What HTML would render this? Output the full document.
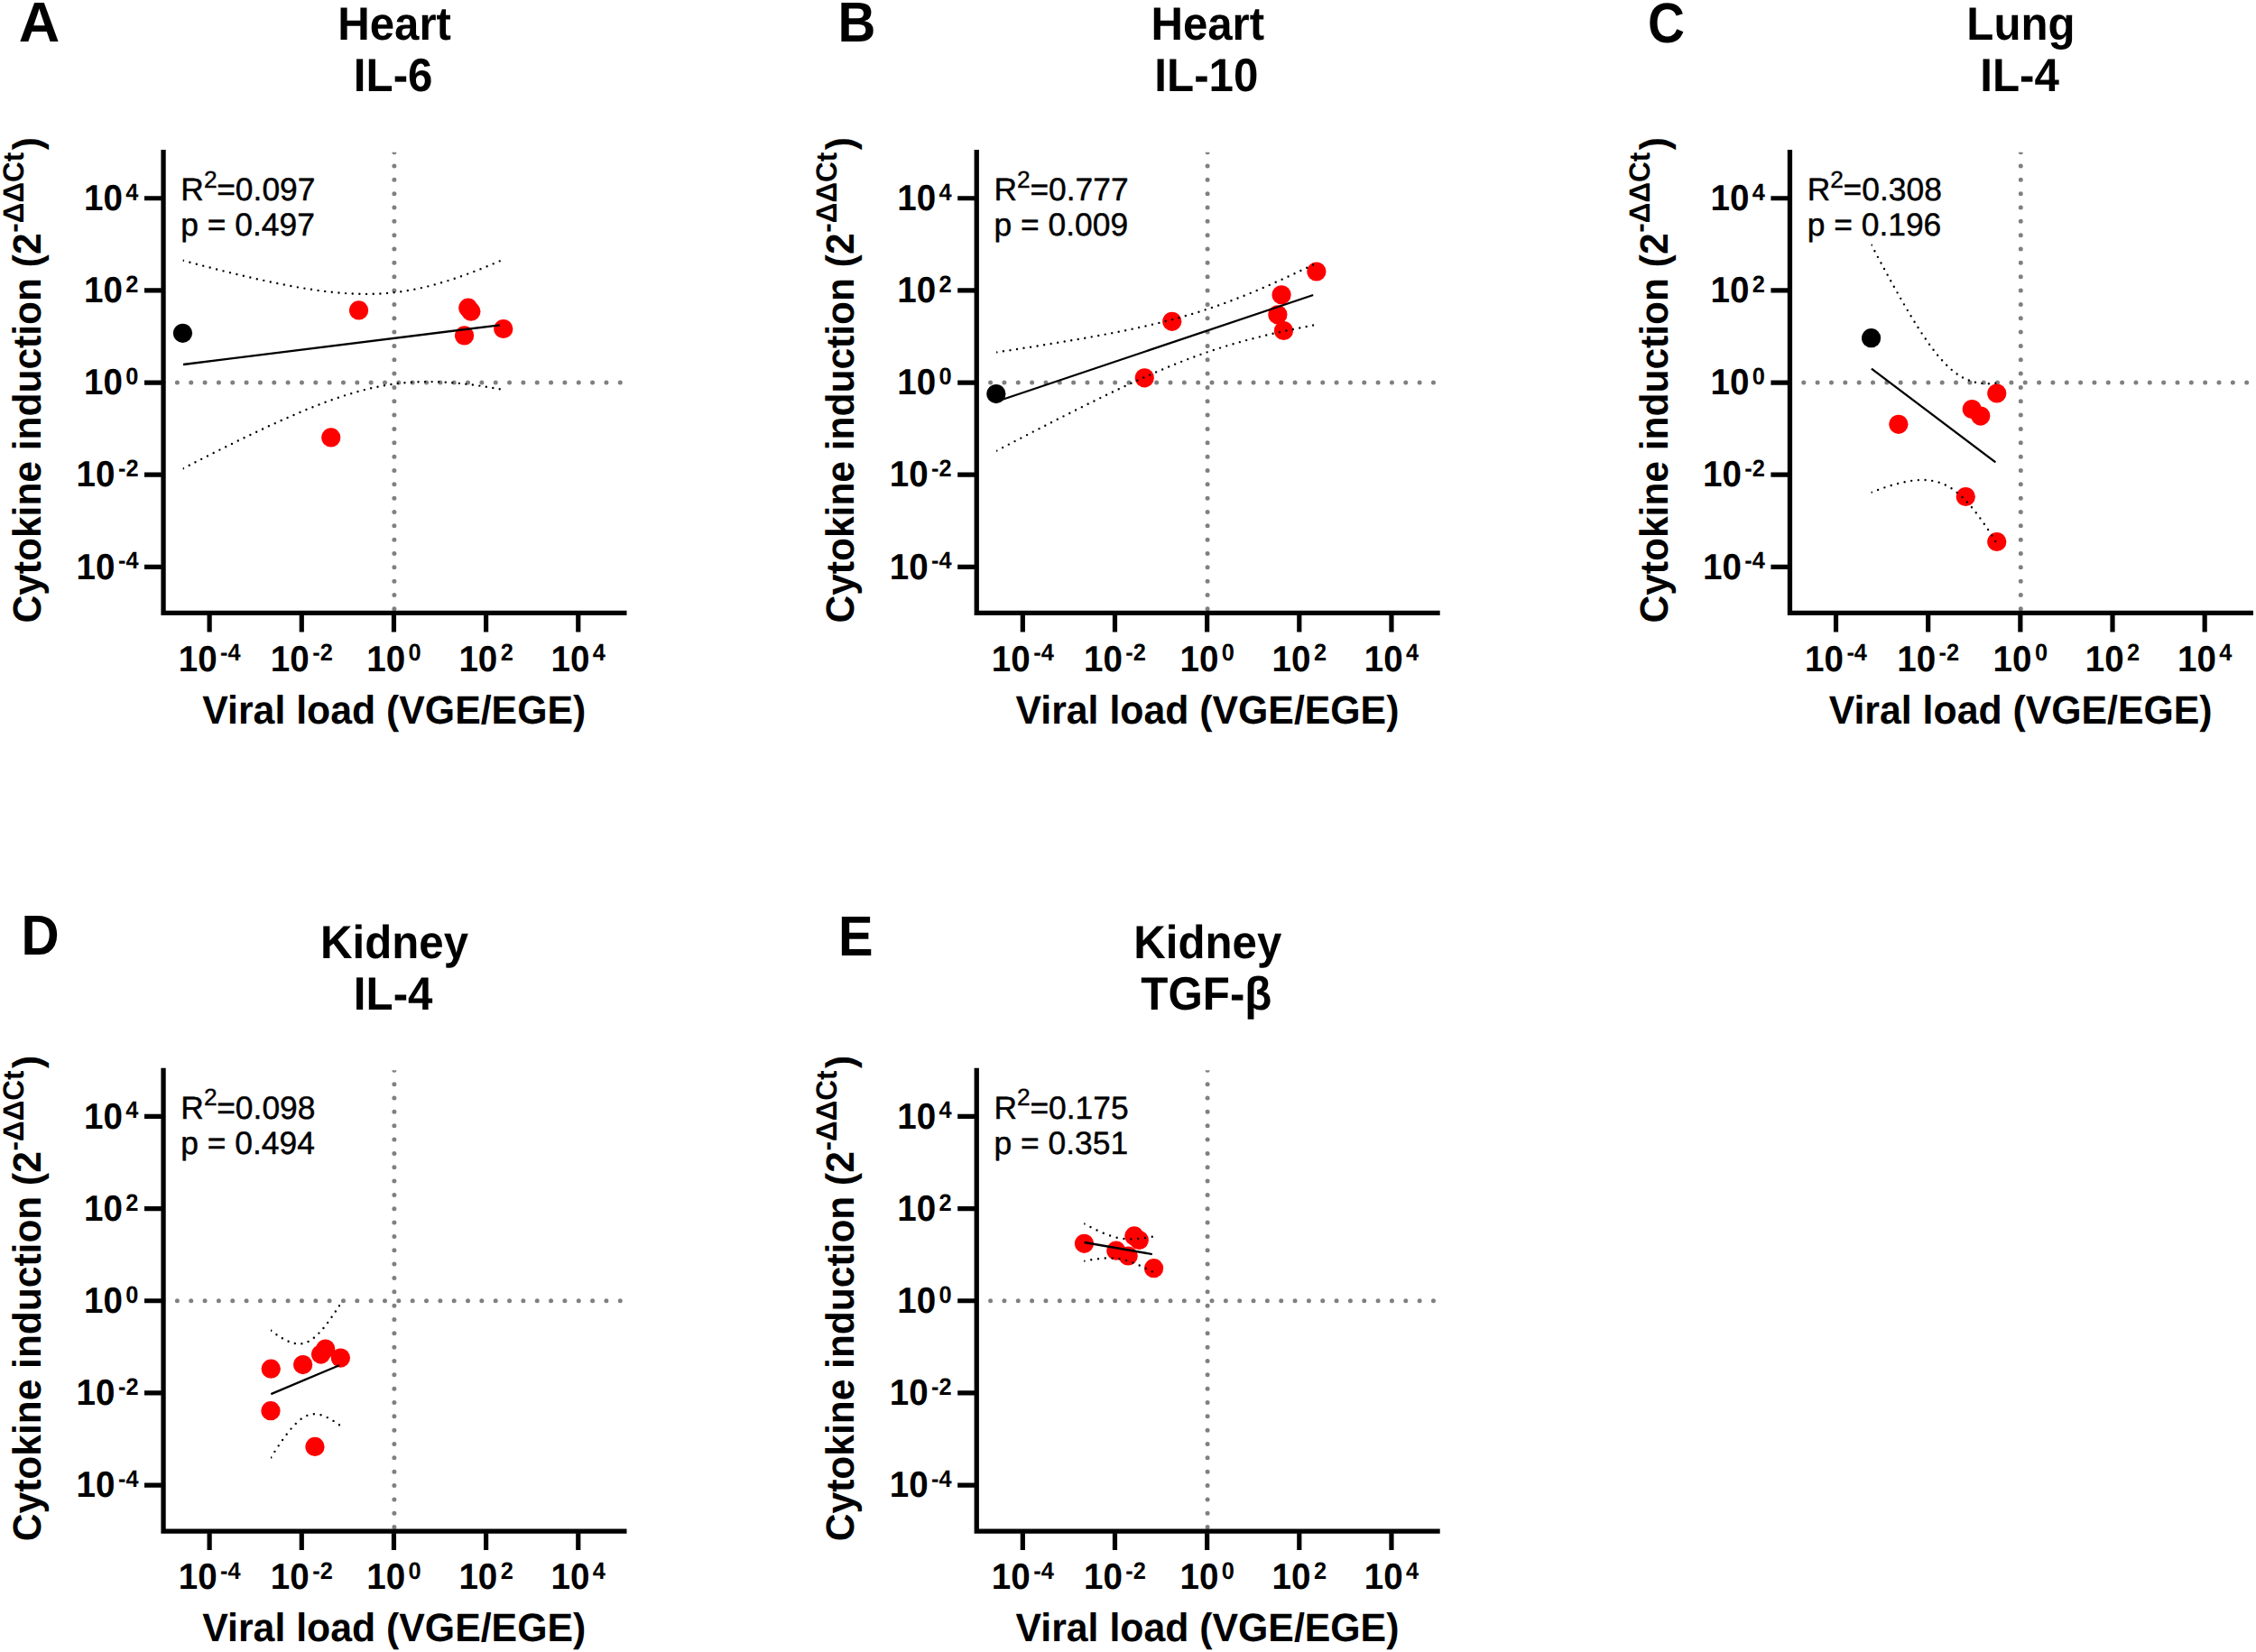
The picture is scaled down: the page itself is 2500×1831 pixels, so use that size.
<!DOCTYPE html>
<html lang="en"><head><meta charset="utf-8"><title>Cytokine induction vs viral load</title>
<style>html,body{margin:0;padding:0;background:#fff}
svg{display:block;font-family:"Liberation Sans",sans-serif;text-rendering:geometricPrecision}
.gd{fill:none;stroke:#808080;stroke-width:5;stroke-linecap:round;stroke-dasharray:0 15.34}
.ci{fill:none;stroke:#000;stroke-width:2.4;stroke-linecap:round}
.rl{fill:none;stroke:#000;stroke-width:2.3}
.st{stroke:#000;stroke-width:.45;stroke-linejoin:round}
.ax{fill:none;stroke:#000;stroke-width:5.3}
.tk{fill:none;stroke:#000;stroke-width:5.2}</style></head><body>
<svg width="2500" height="1831" viewBox="0 0 2500 1831">
<defs><clipPath id="cp"><rect x="0" y="168.65" width="2500" height="600"/></clipPath></defs>
<rect width="2500" height="1831" fill="#fff"/>
<g transform="translate(0.00,0.00)">
<path d="M181.05,424.05H691.85" class="gd"/>
<path d="M436.90,168.65V679.45" class="gd" clip-path="url(#cp)"/>
<circle cx="202.50" cy="369.30" r="10.6" fill="#000"/>
<circle cx="397.60" cy="343.90" r="10.6" fill="#f00"/>
<circle cx="366.80" cy="484.90" r="10.6" fill="#f00"/>
<circle cx="514.60" cy="371.90" r="10.6" fill="#f00"/>
<circle cx="518.80" cy="341.20" r="10.6" fill="#f00"/>
<circle cx="521.90" cy="345.20" r="10.6" fill="#f00"/>
<circle cx="557.80" cy="364.50" r="10.6" fill="#f00"/>
<clipPath id="cA"><rect x="202.70" y="100" width="352.40" height="620"/></clipPath>
<g clip-path="url(#cA)">
<path d="M203.00,288.80 L207.44,289.99 L211.88,291.17 L216.32,292.34 L220.76,293.50 L225.20,294.65 L229.64,295.80 L234.08,296.94 L238.52,298.07 L242.96,299.19 L247.41,300.30 L251.85,301.41 L256.29,302.50 L260.73,303.58 L265.17,304.64 L269.61,305.70 L274.05,306.74 L278.49,307.77 L282.93,308.78 L287.37,309.78 L291.81,310.76 L296.25,311.72 L300.69,312.67 L305.13,313.59 L309.57,314.50 L314.01,315.38 L318.45,316.24 L322.89,317.07 L327.33,317.88 L331.77,318.67 L336.22,319.42 L340.66,320.14 L345.10,320.83 L349.54,321.49 L353.98,322.11 L358.42,322.69 L362.86,323.23 L367.30,323.73 L371.74,324.18 L376.18,324.58 L380.62,324.94 L385.06,325.24 L389.50,325.49 L393.94,325.68 L398.38,325.81 L402.82,325.88 L407.26,325.88 L411.70,325.82 L416.14,325.69 L420.58,325.50 L425.03,325.23 L429.47,324.89 L433.91,324.47 L438.35,323.98 L442.79,323.42 L447.23,322.78 L451.67,322.07 L456.11,321.29 L460.55,320.43 L464.99,319.51 L469.43,318.51 L473.87,317.45 L478.31,316.32 L482.75,315.13 L487.19,313.88 L491.63,312.57 L496.07,311.20 L500.51,309.78 L504.95,308.30 L509.39,306.78 L513.84,305.21 L518.28,303.59 L522.72,301.94 L527.16,300.24 L531.60,298.50 L536.04,296.73 L540.48,294.93 L544.92,293.09 L549.36,291.22 L553.80,289.33" class="ci" stroke-dasharray="0 7.665"/>
<path d="M203.00,519.20 L207.44,516.91 L211.88,514.62 L216.32,512.35 L220.76,510.08 L225.20,507.81 L229.64,505.56 L234.08,503.31 L238.52,501.08 L242.96,498.85 L247.41,496.63 L251.85,494.42 L256.29,492.23 L260.73,490.04 L265.17,487.87 L269.61,485.71 L274.05,483.56 L278.49,481.43 L282.93,479.31 L287.37,477.20 L291.81,475.12 L296.25,473.05 L300.69,470.99 L305.13,468.96 L309.57,466.95 L314.01,464.96 L318.45,463.00 L322.89,461.05 L327.33,459.14 L331.77,457.25 L336.22,455.39 L340.66,453.56 L345.10,451.76 L349.54,450.00 L353.98,448.28 L358.42,446.59 L362.86,444.94 L367.30,443.34 L371.74,441.78 L376.18,440.27 L380.62,438.81 L385.06,437.40 L389.50,436.05 L393.94,434.75 L398.38,433.51 L402.82,432.34 L407.26,431.22 L411.70,430.18 L416.14,429.20 L420.58,428.29 L425.03,427.46 L429.47,426.69 L433.91,426.00 L438.35,425.38 L442.79,424.84 L447.23,424.37 L451.67,423.97 L456.11,423.65 L460.55,423.40 L464.99,423.22 L469.43,423.11 L473.87,423.06 L478.31,423.09 L482.75,423.17 L487.19,423.32 L491.63,423.52 L496.07,423.78 L500.51,424.10 L504.95,424.47 L509.39,424.89 L513.84,425.35 L518.28,425.86 L522.72,426.41 L527.16,427.00 L531.60,427.63 L536.04,428.29 L540.48,428.99 L544.92,429.72 L549.36,430.48 L553.80,431.27" class="ci" stroke-dasharray="0 7.562"/>
</g>
<path d="M203.00,404.00L553.80,360.30" class="rl"/>
<path d="M181.05,166.00V682.10M178.40,679.45H694.50" class="ax"/>
<path d="M160,628.37H178.90M232.13,681.60V700.4M160,526.21H178.90M334.29,681.60V700.4M160,424.05H178.90M436.45,681.60V700.4M160,321.89H178.90M538.61,681.60V700.4M160,219.73H178.90M640.77,681.60V700.4" class="tk"/>
<text transform="translate(130.92,630.37) scale(1,1.045)" font-size="25.4" font-weight="bold">-4</text>
<text transform="translate(127.52,641.57) scale(1,1.045)" font-size="38.6" font-weight="bold" text-anchor="end">10</text>
<text transform="translate(197.67,743.60) scale(1,1.045)" font-size="38.6" font-weight="bold">10</text>
<text transform="translate(244.01,732.00) scale(1,1.045)" font-size="25.4" font-weight="bold">-4</text>
<text transform="translate(130.92,528.21) scale(1,1.045)" font-size="25.4" font-weight="bold">-2</text>
<text transform="translate(127.52,539.41) scale(1,1.045)" font-size="38.6" font-weight="bold" text-anchor="end">10</text>
<text transform="translate(299.83,743.60) scale(1,1.045)" font-size="38.6" font-weight="bold">10</text>
<text transform="translate(346.17,732.00) scale(1,1.045)" font-size="25.4" font-weight="bold">-2</text>
<text transform="translate(139.37,426.05) scale(1,1.045)" font-size="25.4" font-weight="bold">0</text>
<text transform="translate(135.97,437.25) scale(1,1.045)" font-size="38.6" font-weight="bold" text-anchor="end">10</text>
<text transform="translate(406.22,743.60) scale(1,1.045)" font-size="38.6" font-weight="bold">10</text>
<text transform="translate(452.55,732.00) scale(1,1.045)" font-size="25.4" font-weight="bold">0</text>
<text transform="translate(139.37,323.89) scale(1,1.045)" font-size="25.4" font-weight="bold">2</text>
<text transform="translate(135.97,335.09) scale(1,1.045)" font-size="38.6" font-weight="bold" text-anchor="end">10</text>
<text transform="translate(508.38,743.60) scale(1,1.045)" font-size="38.6" font-weight="bold">10</text>
<text transform="translate(554.71,732.00) scale(1,1.045)" font-size="25.4" font-weight="bold">2</text>
<text transform="translate(139.37,221.73) scale(1,1.045)" font-size="25.4" font-weight="bold">4</text>
<text transform="translate(135.97,232.93) scale(1,1.045)" font-size="38.6" font-weight="bold" text-anchor="end">10</text>
<text transform="translate(610.54,743.60) scale(1,1.045)" font-size="38.6" font-weight="bold">10</text>
<text transform="translate(656.87,732.00) scale(1,1.045)" font-size="25.4" font-weight="bold">4</text>
<text transform="translate(436.75,801.70) scale(1,1.03)" font-size="42.8" font-weight="bold" text-anchor="middle">Viral load (VGE/EGE)</text>
<g transform="translate(45.2,690.5) rotate(-90)">
<text transform="translate(0.00,0.00) scale(1,1.03)" font-size="42.5" font-weight="bold">Cytokine induction (2</text>
<text transform="translate(432.80,-19.30) scale(1,1.03)" font-size="31.5" font-weight="bold">-ΔΔCt</text>
<text transform="translate(524.30,0.00) scale(1,1.03)" font-size="42.5" font-weight="bold">)</text>
</g>
<text transform="translate(200.30,222.30)" font-size="35.4" class="st">R</text>
<text transform="translate(225.90,207.50)" font-size="26.3" class="st">2</text>
<text transform="translate(240.20,222.30)" font-size="35.4" class="st">=0.097</text>
<text transform="translate(200.30,261.40)" font-size="35.4" class="st">p = 0.497</text>
<text transform="translate(437.05,43.90) scale(1,1.05)" font-size="49.2" font-weight="bold" text-anchor="middle">Heart</text>
<text transform="translate(435.65,100.80) scale(1,1.05)" font-size="49.3" font-weight="bold" text-anchor="middle">IL-6</text>
</g>
<text transform="translate(20.70,45.80) scale(1.05,1.045)" font-size="60" font-weight="bold">A</text>
<g transform="translate(901.20,0.00)">
<path d="M181.05,424.05H691.85" class="gd"/>
<path d="M436.90,168.65V679.45" class="gd" clip-path="url(#cp)"/>
<circle cx="202.70" cy="436.60" r="10.6" fill="#000"/>
<circle cx="397.60" cy="356.30" r="10.6" fill="#f00"/>
<circle cx="367.10" cy="418.80" r="10.6" fill="#f00"/>
<circle cx="557.70" cy="301.00" r="10.6" fill="#f00"/>
<circle cx="518.90" cy="326.80" r="10.6" fill="#f00"/>
<circle cx="514.70" cy="348.80" r="10.6" fill="#f00"/>
<circle cx="521.30" cy="366.50" r="10.6" fill="#f00"/>
<clipPath id="cB"><rect x="202.90" y="100" width="352.40" height="620"/></clipPath>
<g clip-path="url(#cB)">
<path d="M203.20,390.40 L207.64,389.74 L212.08,389.07 L216.52,388.39 L220.96,387.72 L225.40,387.04 L229.84,386.36 L234.28,385.67 L238.72,384.98 L243.16,384.28 L247.61,383.58 L252.05,382.88 L256.49,382.17 L260.93,381.45 L265.37,380.73 L269.81,380.00 L274.25,379.27 L278.69,378.53 L283.13,377.79 L287.57,377.03 L292.01,376.27 L296.45,375.50 L300.89,374.72 L305.33,373.93 L309.77,373.14 L314.21,372.33 L318.65,371.51 L323.09,370.68 L327.53,369.84 L331.97,368.98 L336.42,368.11 L340.86,367.23 L345.30,366.33 L349.74,365.41 L354.18,364.48 L358.62,363.53 L363.06,362.56 L367.50,361.57 L371.94,360.56 L376.38,359.52 L380.82,358.46 L385.26,357.38 L389.70,356.27 L394.14,355.13 L398.58,353.96 L403.02,352.77 L407.46,351.54 L411.90,350.28 L416.34,348.99 L420.78,347.67 L425.23,346.31 L429.67,344.91 L434.11,343.49 L438.55,342.02 L442.99,340.52 L447.43,338.99 L451.87,337.42 L456.31,335.81 L460.75,334.17 L465.19,332.49 L469.63,330.79 L474.07,329.05 L478.51,327.28 L482.95,325.47 L487.39,323.64 L491.83,321.78 L496.27,319.90 L500.71,317.99 L505.15,316.05 L509.59,314.09 L514.04,312.11 L518.48,310.10 L522.92,308.08 L527.36,306.04 L531.80,303.98 L536.24,301.90 L540.68,299.81 L545.12,297.70 L549.56,295.57 L554.00,293.44" class="ci" stroke-dasharray="0 7.622"/>
<path d="M203.20,499.60 L207.64,497.28 L212.08,494.96 L216.52,492.64 L220.96,490.33 L225.40,488.02 L229.84,485.72 L234.28,483.42 L238.72,481.12 L243.16,478.83 L247.61,476.54 L252.05,474.26 L256.49,471.98 L260.93,469.71 L265.37,467.45 L269.81,465.19 L274.25,462.93 L278.69,460.68 L283.13,458.44 L287.57,456.21 L292.01,453.98 L296.45,451.77 L300.89,449.56 L305.33,447.36 L309.77,445.17 L314.21,442.99 L318.65,440.82 L323.09,438.66 L327.53,436.52 L331.97,434.38 L336.42,432.27 L340.86,430.16 L345.30,428.07 L349.74,426.00 L354.18,423.95 L358.62,421.91 L363.06,419.90 L367.50,417.90 L371.94,415.92 L376.38,413.97 L380.82,412.04 L385.26,410.14 L389.70,408.26 L394.14,406.41 L398.58,404.59 L403.02,402.80 L407.46,401.04 L411.90,399.31 L416.34,397.62 L420.78,395.95 L425.23,394.32 L429.67,392.73 L434.11,391.17 L438.55,389.65 L442.99,388.16 L447.43,386.71 L451.87,385.29 L456.31,383.91 L460.75,382.56 L465.19,381.25 L469.63,379.97 L474.07,378.73 L478.51,377.51 L482.95,376.32 L487.39,375.17 L491.83,374.04 L496.27,372.94 L500.71,371.86 L505.15,370.81 L509.59,369.78 L514.04,368.78 L518.48,367.80 L522.92,366.83 L527.36,365.89 L531.80,364.96 L536.24,364.05 L540.68,363.16 L545.12,362.28 L549.56,361.41 L554.00,360.56" class="ci" stroke-dasharray="0 7.582"/>
</g>
<path d="M203.20,445.00L554.00,327.00" class="rl"/>
<path d="M181.05,166.00V682.10M178.40,679.45H694.50" class="ax"/>
<path d="M160,628.37H178.90M232.13,681.60V700.4M160,526.21H178.90M334.29,681.60V700.4M160,424.05H178.90M436.45,681.60V700.4M160,321.89H178.90M538.61,681.60V700.4M160,219.73H178.90M640.77,681.60V700.4" class="tk"/>
<text transform="translate(130.92,630.37) scale(1,1.045)" font-size="25.4" font-weight="bold">-4</text>
<text transform="translate(127.52,641.57) scale(1,1.045)" font-size="38.6" font-weight="bold" text-anchor="end">10</text>
<text transform="translate(197.67,743.60) scale(1,1.045)" font-size="38.6" font-weight="bold">10</text>
<text transform="translate(244.01,732.00) scale(1,1.045)" font-size="25.4" font-weight="bold">-4</text>
<text transform="translate(130.92,528.21) scale(1,1.045)" font-size="25.4" font-weight="bold">-2</text>
<text transform="translate(127.52,539.41) scale(1,1.045)" font-size="38.6" font-weight="bold" text-anchor="end">10</text>
<text transform="translate(299.83,743.60) scale(1,1.045)" font-size="38.6" font-weight="bold">10</text>
<text transform="translate(346.17,732.00) scale(1,1.045)" font-size="25.4" font-weight="bold">-2</text>
<text transform="translate(139.37,426.05) scale(1,1.045)" font-size="25.4" font-weight="bold">0</text>
<text transform="translate(135.97,437.25) scale(1,1.045)" font-size="38.6" font-weight="bold" text-anchor="end">10</text>
<text transform="translate(406.22,743.60) scale(1,1.045)" font-size="38.6" font-weight="bold">10</text>
<text transform="translate(452.55,732.00) scale(1,1.045)" font-size="25.4" font-weight="bold">0</text>
<text transform="translate(139.37,323.89) scale(1,1.045)" font-size="25.4" font-weight="bold">2</text>
<text transform="translate(135.97,335.09) scale(1,1.045)" font-size="38.6" font-weight="bold" text-anchor="end">10</text>
<text transform="translate(508.38,743.60) scale(1,1.045)" font-size="38.6" font-weight="bold">10</text>
<text transform="translate(554.71,732.00) scale(1,1.045)" font-size="25.4" font-weight="bold">2</text>
<text transform="translate(139.37,221.73) scale(1,1.045)" font-size="25.4" font-weight="bold">4</text>
<text transform="translate(135.97,232.93) scale(1,1.045)" font-size="38.6" font-weight="bold" text-anchor="end">10</text>
<text transform="translate(610.54,743.60) scale(1,1.045)" font-size="38.6" font-weight="bold">10</text>
<text transform="translate(656.87,732.00) scale(1,1.045)" font-size="25.4" font-weight="bold">4</text>
<text transform="translate(436.75,801.70) scale(1,1.03)" font-size="42.8" font-weight="bold" text-anchor="middle">Viral load (VGE/EGE)</text>
<g transform="translate(45.2,690.5) rotate(-90)">
<text transform="translate(0.00,0.00) scale(1,1.03)" font-size="42.5" font-weight="bold">Cytokine induction (2</text>
<text transform="translate(432.80,-19.30) scale(1,1.03)" font-size="31.5" font-weight="bold">-ΔΔCt</text>
<text transform="translate(524.30,0.00) scale(1,1.03)" font-size="42.5" font-weight="bold">)</text>
</g>
<text transform="translate(200.30,222.30)" font-size="35.4" class="st">R</text>
<text transform="translate(225.90,207.50)" font-size="26.3" class="st">2</text>
<text transform="translate(240.20,222.30)" font-size="35.4" class="st">=0.777</text>
<text transform="translate(200.30,261.40)" font-size="35.4" class="st">p = 0.009</text>
<text transform="translate(437.05,43.90) scale(1,1.05)" font-size="49.2" font-weight="bold" text-anchor="middle">Heart</text>
<text transform="translate(435.65,100.80) scale(1,1.05)" font-size="49.3" font-weight="bold" text-anchor="middle">IL-10</text>
</g>
<text transform="translate(928.50,46.30) scale(0.967,1.045)" font-size="60" font-weight="bold">B</text>
<g transform="translate(1802.40,0.00)">
<path d="M181.05,424.05H691.85" class="gd"/>
<path d="M436.90,168.65V679.45" class="gd" clip-path="url(#cp)"/>
<circle cx="271.20" cy="374.70" r="10.6" fill="#000"/>
<circle cx="301.50" cy="470.30" r="10.6" fill="#f00"/>
<circle cx="382.90" cy="453.60" r="10.6" fill="#f00"/>
<circle cx="392.40" cy="461.10" r="10.6" fill="#f00"/>
<circle cx="410.40" cy="436.00" r="10.6" fill="#f00"/>
<circle cx="375.90" cy="550.50" r="10.6" fill="#f00"/>
<circle cx="410.40" cy="600.50" r="10.6" fill="#f00"/>
<clipPath id="cC"><rect x="271.20" y="100" width="139.10" height="620"/></clipPath>
<g clip-path="url(#cC)">
<path d="M271.50,271.61 L273.24,274.90 L274.98,278.18 L276.72,281.45 L278.46,284.72 L280.20,287.97 L281.94,291.21 L283.68,294.45 L285.42,297.67 L287.16,300.87 L288.91,304.07 L290.65,307.25 L292.39,310.42 L294.13,313.57 L295.87,316.71 L297.61,319.83 L299.35,322.93 L301.09,326.02 L302.83,329.08 L304.57,332.13 L306.31,335.15 L308.05,338.16 L309.79,341.14 L311.53,344.09 L313.27,347.02 L315.01,349.92 L316.75,352.80 L318.49,355.64 L320.23,358.45 L321.97,361.23 L323.72,363.97 L325.46,366.68 L327.20,369.35 L328.94,371.97 L330.68,374.56 L332.42,377.10 L334.16,379.59 L335.90,382.03 L337.64,384.42 L339.38,386.76 L341.12,389.04 L342.86,391.26 L344.60,393.42 L346.34,395.52 L348.08,397.55 L349.82,399.51 L351.56,401.41 L353.30,403.24 L355.04,404.99 L356.78,406.67 L358.53,408.27 L360.27,409.80 L362.01,411.25 L363.75,412.62 L365.49,413.92 L367.23,415.14 L368.97,416.28 L370.71,417.34 L372.45,418.33 L374.19,419.24 L375.93,420.08 L377.67,420.85 L379.41,421.55 L381.15,422.18 L382.89,422.74 L384.63,423.24 L386.37,423.68 L388.11,424.06 L389.85,424.38 L391.59,424.64 L393.34,424.85 L395.08,425.02 L396.82,425.13 L398.56,425.20 L400.30,425.22 L402.04,425.20 L403.78,425.14 L405.52,425.05 L407.26,424.91 L409.00,424.75" class="ci" stroke-dasharray="0 7.501"/>
<path d="M271.50,545.59 L273.24,544.93 L274.98,544.28 L276.72,543.63 L278.46,542.99 L280.20,542.37 L281.94,541.75 L283.68,541.15 L285.42,540.56 L287.16,539.98 L288.91,539.41 L290.65,538.86 L292.39,538.32 L294.13,537.79 L295.87,537.28 L297.61,536.79 L299.35,536.32 L301.09,535.86 L302.83,535.42 L304.57,535.00 L306.31,534.60 L308.05,534.23 L309.79,533.88 L311.53,533.55 L313.27,533.25 L315.01,532.97 L316.75,532.73 L318.49,532.51 L320.23,532.33 L321.97,532.18 L323.72,532.06 L325.46,531.98 L327.20,531.94 L328.94,531.95 L330.68,531.99 L332.42,532.08 L334.16,532.22 L335.90,532.40 L337.64,532.64 L339.38,532.93 L341.12,533.28 L342.86,533.68 L344.60,534.15 L346.34,534.68 L348.08,535.28 L349.82,535.94 L351.56,536.67 L353.30,537.47 L355.04,538.35 L356.78,539.30 L358.53,540.32 L360.27,541.42 L362.01,542.60 L363.75,543.85 L365.49,545.19 L367.23,546.60 L368.97,548.08 L370.71,549.65 L372.45,551.29 L374.19,553.00 L375.93,554.79 L377.67,556.65 L379.41,558.58 L381.15,560.58 L382.89,562.64 L384.63,564.77 L386.37,566.96 L388.11,569.21 L389.85,571.52 L391.59,573.88 L393.34,576.30 L395.08,578.76 L396.82,581.28 L398.56,583.84 L400.30,586.44 L402.04,589.09 L403.78,591.77 L405.52,594.50 L407.26,597.26 L409.00,600.05" class="ci" stroke-dasharray="0 7.697"/>
</g>
<path d="M271.50,408.60L409.00,512.40" class="rl"/>
<path d="M181.05,166.00V682.10M178.40,679.45H694.50" class="ax"/>
<path d="M160,628.37H178.90M232.13,681.60V700.4M160,526.21H178.90M334.29,681.60V700.4M160,424.05H178.90M436.45,681.60V700.4M160,321.89H178.90M538.61,681.60V700.4M160,219.73H178.90M640.77,681.60V700.4" class="tk"/>
<text transform="translate(130.92,630.37) scale(1,1.045)" font-size="25.4" font-weight="bold">-4</text>
<text transform="translate(127.52,641.57) scale(1,1.045)" font-size="38.6" font-weight="bold" text-anchor="end">10</text>
<text transform="translate(197.67,743.60) scale(1,1.045)" font-size="38.6" font-weight="bold">10</text>
<text transform="translate(244.01,732.00) scale(1,1.045)" font-size="25.4" font-weight="bold">-4</text>
<text transform="translate(130.92,528.21) scale(1,1.045)" font-size="25.4" font-weight="bold">-2</text>
<text transform="translate(127.52,539.41) scale(1,1.045)" font-size="38.6" font-weight="bold" text-anchor="end">10</text>
<text transform="translate(299.83,743.60) scale(1,1.045)" font-size="38.6" font-weight="bold">10</text>
<text transform="translate(346.17,732.00) scale(1,1.045)" font-size="25.4" font-weight="bold">-2</text>
<text transform="translate(139.37,426.05) scale(1,1.045)" font-size="25.4" font-weight="bold">0</text>
<text transform="translate(135.97,437.25) scale(1,1.045)" font-size="38.6" font-weight="bold" text-anchor="end">10</text>
<text transform="translate(406.22,743.60) scale(1,1.045)" font-size="38.6" font-weight="bold">10</text>
<text transform="translate(452.55,732.00) scale(1,1.045)" font-size="25.4" font-weight="bold">0</text>
<text transform="translate(139.37,323.89) scale(1,1.045)" font-size="25.4" font-weight="bold">2</text>
<text transform="translate(135.97,335.09) scale(1,1.045)" font-size="38.6" font-weight="bold" text-anchor="end">10</text>
<text transform="translate(508.38,743.60) scale(1,1.045)" font-size="38.6" font-weight="bold">10</text>
<text transform="translate(554.71,732.00) scale(1,1.045)" font-size="25.4" font-weight="bold">2</text>
<text transform="translate(139.37,221.73) scale(1,1.045)" font-size="25.4" font-weight="bold">4</text>
<text transform="translate(135.97,232.93) scale(1,1.045)" font-size="38.6" font-weight="bold" text-anchor="end">10</text>
<text transform="translate(610.54,743.60) scale(1,1.045)" font-size="38.6" font-weight="bold">10</text>
<text transform="translate(656.87,732.00) scale(1,1.045)" font-size="25.4" font-weight="bold">4</text>
<text transform="translate(436.75,801.70) scale(1,1.03)" font-size="42.8" font-weight="bold" text-anchor="middle">Viral load (VGE/EGE)</text>
<g transform="translate(45.2,690.5) rotate(-90)">
<text transform="translate(0.00,0.00) scale(1,1.03)" font-size="42.5" font-weight="bold">Cytokine induction (2</text>
<text transform="translate(432.80,-19.30) scale(1,1.03)" font-size="31.5" font-weight="bold">-ΔΔCt</text>
<text transform="translate(524.30,0.00) scale(1,1.03)" font-size="42.5" font-weight="bold">)</text>
</g>
<text transform="translate(200.30,222.30)" font-size="35.4" class="st">R</text>
<text transform="translate(225.90,207.50)" font-size="26.3" class="st">2</text>
<text transform="translate(240.20,222.30)" font-size="35.4" class="st">=0.308</text>
<text transform="translate(200.30,261.40)" font-size="35.4" class="st">p = 0.196</text>
<text transform="translate(437.05,43.90) scale(1,1.05)" font-size="49.2" font-weight="bold" text-anchor="middle">Lung</text>
<text transform="translate(435.65,100.80) scale(1,1.05)" font-size="49.3" font-weight="bold" text-anchor="middle">IL-4</text>
</g>
<text transform="translate(1826.10,46.80) scale(0.944,1.045)" font-size="60" font-weight="bold">C</text>
<g transform="translate(0.00,1017.70)">
<path d="M181.05,424.05H691.85" class="gd"/>
<path d="M436.90,168.65V679.45" class="gd" clip-path="url(#cp)"/>
<circle cx="300.30" cy="499.50" r="10.6" fill="#f00"/>
<circle cx="335.70" cy="494.90" r="10.6" fill="#f00"/>
<circle cx="355.60" cy="483.40" r="10.6" fill="#f00"/>
<circle cx="360.70" cy="477.40" r="10.6" fill="#f00"/>
<circle cx="377.40" cy="487.40" r="10.6" fill="#f00"/>
<circle cx="300.00" cy="546.00" r="10.6" fill="#f00"/>
<circle cx="349.00" cy="585.70" r="10.6" fill="#f00"/>
<clipPath id="cD"><rect x="300.00" y="100" width="77.30" height="620"/></clipPath>
<g clip-path="url(#cD)">
<path d="M300.30,457.08 L301.26,457.80 L302.22,458.52 L303.17,459.22 L304.13,459.91 L305.09,460.59 L306.05,461.25 L307.01,461.91 L307.97,462.55 L308.92,463.18 L309.88,463.80 L310.84,464.40 L311.80,464.98 L312.76,465.55 L313.72,466.10 L314.67,466.63 L315.63,467.14 L316.59,467.63 L317.55,468.10 L318.51,468.55 L319.46,468.97 L320.42,469.37 L321.38,469.75 L322.34,470.09 L323.30,470.41 L324.26,470.70 L325.21,470.95 L326.17,471.18 L327.13,471.36 L328.09,471.52 L329.05,471.64 L330.01,471.71 L330.96,471.75 L331.92,471.75 L332.88,471.71 L333.84,471.62 L334.80,471.49 L335.75,471.32 L336.71,471.10 L337.67,470.83 L338.63,470.52 L339.59,470.16 L340.55,469.75 L341.50,469.30 L342.46,468.80 L343.42,468.25 L344.38,467.65 L345.34,467.02 L346.29,466.33 L347.25,465.60 L348.21,464.83 L349.17,464.02 L350.13,463.17 L351.09,462.28 L352.04,461.35 L353.00,460.38 L353.96,459.38 L354.92,458.35 L355.88,457.28 L356.84,456.18 L357.79,455.05 L358.75,453.89 L359.71,452.71 L360.67,451.50 L361.63,450.26 L362.58,449.00 L363.54,447.72 L364.50,446.42 L365.46,445.10 L366.42,443.76 L367.38,442.40 L368.33,441.02 L369.29,439.63 L370.25,438.22 L371.21,436.79 L372.17,435.35 L373.13,433.90 L374.08,432.44 L375.04,430.96 L376.00,429.47" class="ci" stroke-dasharray="0 7.587"/>
<path d="M300.30,597.72 L301.26,596.19 L302.22,594.67 L303.17,593.16 L304.13,591.66 L305.09,590.18 L306.05,588.70 L307.01,587.24 L307.97,585.79 L308.92,584.35 L309.88,582.93 L310.84,581.52 L311.80,580.13 L312.76,578.75 L313.72,577.40 L314.67,576.06 L315.63,574.74 L316.59,573.44 L317.55,572.16 L318.51,570.91 L319.46,569.67 L320.42,568.47 L321.38,567.29 L322.34,566.13 L323.30,565.01 L324.26,563.91 L325.21,562.85 L326.17,561.82 L327.13,560.82 L328.09,559.86 L329.05,558.94 L330.01,558.05 L330.96,557.20 L331.92,556.40 L332.88,555.63 L333.84,554.91 L334.80,554.23 L335.75,553.60 L336.71,553.01 L337.67,552.47 L338.63,551.98 L339.59,551.53 L340.55,551.13 L341.50,550.78 L342.46,550.47 L343.42,550.21 L344.38,550.00 L345.34,549.83 L346.29,549.70 L347.25,549.62 L348.21,549.59 L349.17,549.59 L350.13,549.64 L351.09,549.72 L352.04,549.84 L353.00,550.00 L353.96,550.19 L354.92,550.42 L355.88,550.68 L356.84,550.97 L357.79,551.29 L358.75,551.64 L359.71,552.02 L360.67,552.42 L361.63,552.85 L362.58,553.30 L363.54,553.78 L364.50,554.27 L365.46,554.78 L366.42,555.32 L367.38,555.87 L368.33,556.44 L369.29,557.03 L370.25,557.63 L371.21,558.25 L372.17,558.88 L373.13,559.52 L374.08,560.18 L375.04,560.85 L376.00,561.53" class="ci" stroke-dasharray="0 7.766"/>
</g>
<path d="M300.30,527.40L376.00,495.50" class="rl"/>
<path d="M181.05,166.00V682.10M178.40,679.45H694.50" class="ax"/>
<path d="M160,628.37H178.90M232.13,681.60V700.4M160,526.21H178.90M334.29,681.60V700.4M160,424.05H178.90M436.45,681.60V700.4M160,321.89H178.90M538.61,681.60V700.4M160,219.73H178.90M640.77,681.60V700.4" class="tk"/>
<text transform="translate(130.92,630.37) scale(1,1.045)" font-size="25.4" font-weight="bold">-4</text>
<text transform="translate(127.52,641.57) scale(1,1.045)" font-size="38.6" font-weight="bold" text-anchor="end">10</text>
<text transform="translate(197.67,743.60) scale(1,1.045)" font-size="38.6" font-weight="bold">10</text>
<text transform="translate(244.01,732.00) scale(1,1.045)" font-size="25.4" font-weight="bold">-4</text>
<text transform="translate(130.92,528.21) scale(1,1.045)" font-size="25.4" font-weight="bold">-2</text>
<text transform="translate(127.52,539.41) scale(1,1.045)" font-size="38.6" font-weight="bold" text-anchor="end">10</text>
<text transform="translate(299.83,743.60) scale(1,1.045)" font-size="38.6" font-weight="bold">10</text>
<text transform="translate(346.17,732.00) scale(1,1.045)" font-size="25.4" font-weight="bold">-2</text>
<text transform="translate(139.37,426.05) scale(1,1.045)" font-size="25.4" font-weight="bold">0</text>
<text transform="translate(135.97,437.25) scale(1,1.045)" font-size="38.6" font-weight="bold" text-anchor="end">10</text>
<text transform="translate(406.22,743.60) scale(1,1.045)" font-size="38.6" font-weight="bold">10</text>
<text transform="translate(452.55,732.00) scale(1,1.045)" font-size="25.4" font-weight="bold">0</text>
<text transform="translate(139.37,323.89) scale(1,1.045)" font-size="25.4" font-weight="bold">2</text>
<text transform="translate(135.97,335.09) scale(1,1.045)" font-size="38.6" font-weight="bold" text-anchor="end">10</text>
<text transform="translate(508.38,743.60) scale(1,1.045)" font-size="38.6" font-weight="bold">10</text>
<text transform="translate(554.71,732.00) scale(1,1.045)" font-size="25.4" font-weight="bold">2</text>
<text transform="translate(139.37,221.73) scale(1,1.045)" font-size="25.4" font-weight="bold">4</text>
<text transform="translate(135.97,232.93) scale(1,1.045)" font-size="38.6" font-weight="bold" text-anchor="end">10</text>
<text transform="translate(610.54,743.60) scale(1,1.045)" font-size="38.6" font-weight="bold">10</text>
<text transform="translate(656.87,732.00) scale(1,1.045)" font-size="25.4" font-weight="bold">4</text>
<text transform="translate(436.75,801.70) scale(1,1.03)" font-size="42.8" font-weight="bold" text-anchor="middle">Viral load (VGE/EGE)</text>
<g transform="translate(45.2,690.5) rotate(-90)">
<text transform="translate(0.00,0.00) scale(1,1.03)" font-size="42.5" font-weight="bold">Cytokine induction (2</text>
<text transform="translate(432.80,-19.30) scale(1,1.03)" font-size="31.5" font-weight="bold">-ΔΔCt</text>
<text transform="translate(524.30,0.00) scale(1,1.03)" font-size="42.5" font-weight="bold">)</text>
</g>
<text transform="translate(200.30,222.30)" font-size="35.4" class="st">R</text>
<text transform="translate(225.90,207.50)" font-size="26.3" class="st">2</text>
<text transform="translate(240.20,222.30)" font-size="35.4" class="st">=0.098</text>
<text transform="translate(200.30,261.40)" font-size="35.4" class="st">p = 0.494</text>
<text transform="translate(437.05,43.90) scale(1,1.05)" font-size="49.2" font-weight="bold" text-anchor="middle">Kidney</text>
<text transform="translate(435.65,100.80) scale(1,1.05)" font-size="49.3" font-weight="bold" text-anchor="middle">IL-4</text>
</g>
<text transform="translate(23.40,1058.30) scale(0.973,1.045)" font-size="60" font-weight="bold">D</text>
<g transform="translate(901.20,1017.70)">
<path d="M181.05,424.05H691.85" class="gd"/>
<path d="M436.90,168.65V679.45" class="gd" clip-path="url(#cp)"/>
<circle cx="300.30" cy="360.60" r="10.6" fill="#f00"/>
<circle cx="355.70" cy="352.20" r="10.6" fill="#f00"/>
<circle cx="361.10" cy="356.80" r="10.6" fill="#f00"/>
<circle cx="335.70" cy="368.50" r="10.6" fill="#f00"/>
<circle cx="349.00" cy="374.30" r="10.6" fill="#f00"/>
<circle cx="377.40" cy="388.00" r="10.6" fill="#f00"/>
<clipPath id="cE"><rect x="300.00" y="100" width="76.90" height="620"/></clipPath>
<g clip-path="url(#cE)">
<path d="M300.30,338.72 L301.25,339.23 L302.21,339.73 L303.16,340.23 L304.11,340.73 L305.07,341.22 L306.02,341.71 L306.97,342.20 L307.93,342.68 L308.88,343.16 L309.83,343.63 L310.78,344.11 L311.74,344.57 L312.69,345.03 L313.64,345.49 L314.60,345.94 L315.55,346.39 L316.50,346.82 L317.46,347.26 L318.41,347.68 L319.36,348.10 L320.32,348.52 L321.27,348.92 L322.22,349.32 L323.18,349.70 L324.13,350.08 L325.08,350.45 L326.04,350.81 L326.99,351.16 L327.94,351.50 L328.89,351.83 L329.85,352.14 L330.80,352.45 L331.75,352.74 L332.71,353.01 L333.66,353.28 L334.61,353.53 L335.57,353.77 L336.52,353.99 L337.47,354.20 L338.43,354.39 L339.38,354.57 L340.33,354.74 L341.29,354.89 L342.24,355.02 L343.19,355.15 L344.15,355.25 L345.10,355.35 L346.05,355.42 L347.01,355.49 L347.96,355.54 L348.91,355.58 L349.86,355.61 L350.82,355.62 L351.77,355.63 L352.72,355.62 L353.68,355.60 L354.63,355.57 L355.58,355.53 L356.54,355.48 L357.49,355.43 L358.44,355.36 L359.40,355.29 L360.35,355.20 L361.30,355.12 L362.26,355.02 L363.21,354.92 L364.16,354.81 L365.12,354.70 L366.07,354.58 L367.02,354.45 L367.97,354.32 L368.93,354.18 L369.88,354.04 L370.83,353.90 L371.79,353.75 L372.74,353.60 L373.69,353.45 L374.65,353.29 L375.60,353.12" class="ci" stroke-dasharray="0 7.877"/>
<path d="M300.30,379.88 L301.25,379.70 L302.21,379.53 L303.16,379.37 L304.11,379.20 L305.07,379.04 L306.02,378.88 L306.97,378.72 L307.93,378.57 L308.88,378.43 L309.83,378.28 L310.78,378.14 L311.74,378.01 L312.69,377.88 L313.64,377.75 L314.60,377.63 L315.55,377.52 L316.50,377.41 L317.46,377.31 L318.41,377.22 L319.36,377.13 L320.32,377.05 L321.27,376.98 L322.22,376.91 L323.18,376.85 L324.13,376.81 L325.08,376.77 L326.04,376.74 L326.99,376.72 L327.94,376.72 L328.89,376.72 L329.85,376.74 L330.80,376.77 L331.75,376.81 L332.71,376.86 L333.66,376.93 L334.61,377.01 L335.57,377.10 L336.52,377.21 L337.47,377.33 L338.43,377.47 L339.38,377.62 L340.33,377.79 L341.29,377.97 L342.24,378.17 L343.19,378.38 L344.15,378.60 L345.10,378.84 L346.05,379.10 L347.01,379.36 L347.96,379.64 L348.91,379.93 L349.86,380.24 L350.82,380.56 L351.77,380.88 L352.72,381.22 L353.68,381.57 L354.63,381.93 L355.58,382.30 L356.54,382.68 L357.49,383.07 L358.44,383.47 L359.40,383.88 L360.35,384.29 L361.30,384.71 L362.26,385.14 L363.21,385.57 L364.16,386.01 L365.12,386.46 L366.07,386.91 L367.02,387.37 L367.97,387.83 L368.93,388.29 L369.88,388.77 L370.83,389.24 L371.79,389.72 L372.74,390.20 L373.69,390.69 L374.65,391.18 L375.60,391.68" class="ci" stroke-dasharray="0 7.834"/>
</g>
<path d="M300.30,359.30L375.60,372.40" class="rl"/>
<path d="M181.05,166.00V682.10M178.40,679.45H694.50" class="ax"/>
<path d="M160,628.37H178.90M232.13,681.60V700.4M160,526.21H178.90M334.29,681.60V700.4M160,424.05H178.90M436.45,681.60V700.4M160,321.89H178.90M538.61,681.60V700.4M160,219.73H178.90M640.77,681.60V700.4" class="tk"/>
<text transform="translate(130.92,630.37) scale(1,1.045)" font-size="25.4" font-weight="bold">-4</text>
<text transform="translate(127.52,641.57) scale(1,1.045)" font-size="38.6" font-weight="bold" text-anchor="end">10</text>
<text transform="translate(197.67,743.60) scale(1,1.045)" font-size="38.6" font-weight="bold">10</text>
<text transform="translate(244.01,732.00) scale(1,1.045)" font-size="25.4" font-weight="bold">-4</text>
<text transform="translate(130.92,528.21) scale(1,1.045)" font-size="25.4" font-weight="bold">-2</text>
<text transform="translate(127.52,539.41) scale(1,1.045)" font-size="38.6" font-weight="bold" text-anchor="end">10</text>
<text transform="translate(299.83,743.60) scale(1,1.045)" font-size="38.6" font-weight="bold">10</text>
<text transform="translate(346.17,732.00) scale(1,1.045)" font-size="25.4" font-weight="bold">-2</text>
<text transform="translate(139.37,426.05) scale(1,1.045)" font-size="25.4" font-weight="bold">0</text>
<text transform="translate(135.97,437.25) scale(1,1.045)" font-size="38.6" font-weight="bold" text-anchor="end">10</text>
<text transform="translate(406.22,743.60) scale(1,1.045)" font-size="38.6" font-weight="bold">10</text>
<text transform="translate(452.55,732.00) scale(1,1.045)" font-size="25.4" font-weight="bold">0</text>
<text transform="translate(139.37,323.89) scale(1,1.045)" font-size="25.4" font-weight="bold">2</text>
<text transform="translate(135.97,335.09) scale(1,1.045)" font-size="38.6" font-weight="bold" text-anchor="end">10</text>
<text transform="translate(508.38,743.60) scale(1,1.045)" font-size="38.6" font-weight="bold">10</text>
<text transform="translate(554.71,732.00) scale(1,1.045)" font-size="25.4" font-weight="bold">2</text>
<text transform="translate(139.37,221.73) scale(1,1.045)" font-size="25.4" font-weight="bold">4</text>
<text transform="translate(135.97,232.93) scale(1,1.045)" font-size="38.6" font-weight="bold" text-anchor="end">10</text>
<text transform="translate(610.54,743.60) scale(1,1.045)" font-size="38.6" font-weight="bold">10</text>
<text transform="translate(656.87,732.00) scale(1,1.045)" font-size="25.4" font-weight="bold">4</text>
<text transform="translate(436.75,801.70) scale(1,1.03)" font-size="42.8" font-weight="bold" text-anchor="middle">Viral load (VGE/EGE)</text>
<g transform="translate(45.2,690.5) rotate(-90)">
<text transform="translate(0.00,0.00) scale(1,1.03)" font-size="42.5" font-weight="bold">Cytokine induction (2</text>
<text transform="translate(432.80,-19.30) scale(1,1.03)" font-size="31.5" font-weight="bold">-ΔΔCt</text>
<text transform="translate(524.30,0.00) scale(1,1.03)" font-size="42.5" font-weight="bold">)</text>
</g>
<text transform="translate(200.30,222.30)" font-size="35.4" class="st">R</text>
<text transform="translate(225.90,207.50)" font-size="26.3" class="st">2</text>
<text transform="translate(240.20,222.30)" font-size="35.4" class="st">=0.175</text>
<text transform="translate(200.30,261.40)" font-size="35.4" class="st">p = 0.351</text>
<text transform="translate(437.05,43.90) scale(1,1.05)" font-size="49.2" font-weight="bold" text-anchor="middle">Kidney</text>
<text transform="translate(435.65,100.80) scale(1,1.05)" font-size="49.3" font-weight="bold" text-anchor="middle">TGF-β</text>
</g>
<text transform="translate(929.10,1059.00) scale(0.963,1.045)" font-size="60" font-weight="bold">E</text>
</svg></body></html>
